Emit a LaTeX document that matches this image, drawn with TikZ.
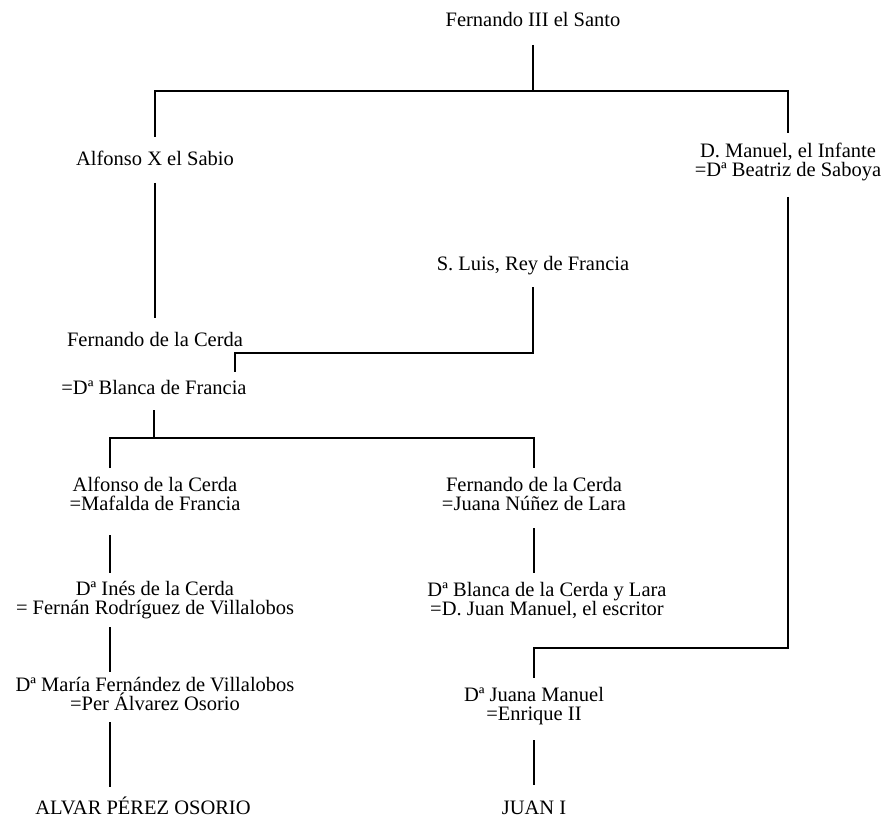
\documentclass[tikz,border=0pt]{standalone}
\usepackage{fontspec}
\setmainfont{Liberation Serif}
\usetikzlibrary{positioning,calc}

\begin{document}
\begin{tikzpicture}[
    x=1pt, y=-1pt,
    font=\fontsize{20.5}{19}\selectfont,
    person/.style={align=center, anchor=base, inner sep=0pt, outer sep=0pt},
    line/.style={line width=1.2pt}
]
\useasboundingbox (0,0) rectangle (887,824);

% Generations
\node[person] (fer3) at (533,27) {Fernando III el Santo};
\node[person] (alf10) at (155,166) {Alfonso X el Sabio};
\node[person] (manuel) at (788,177) {D. Manuel, el Infante\\=Dª Beatriz de Saboya};
\node[person] (luis) at (533,270) {S. Luis, Rey de Francia};
\node[person] (fcerda) at (155,346) {Fernando de la Cerda};
\node[person] (blancaF) at (154,394) {=Dª Blanca de Francia};
\node[person] (alfcerda) at (155,510) {Alfonso de la Cerda\\=Mafalda de Francia};
\node[person] (fercerda) at (534,510) {Fernando de la Cerda\\=Juana Núñez de Lara};
\node[person] (ines) at (155,614) {Dª Inés de la Cerda\\= Fernán Rodríguez de Villalobos};
\node[person] (blancaL) at (547,615) {Dª Blanca de la Cerda y Lara\\=D. Juan Manuel, el escritor};
\node[person] (maria) at (155,710) {Dª María Fernández de Villalobos\\=Per Álvarez Osorio};
\node[person] (juana) at (534,720) {Dª Juana Manuel\\=Enrique II};
\node[person] (alvar) at (143,814) {ALVAR PÉREZ OSORIO};
\node[person] (juan1) at (534,814) {JUAN I};

% Junctions
\coordinate (split1) at (533,91);
\coordinate (split2) at (154,438);
\coordinate (split3) at (534,648);

% Lines
\draw[line] ([yshift=-18pt]fer3.base) -- (split1);
\draw[line] ([yshift=29pt]alf10.base) -- (alf10.base |- split1) -- (manuel.base |- split1) -- ([yshift=44pt]manuel.base);
\draw[line] ([yshift=-17pt]alf10.base) -- ([yshift=28pt]fcerda.base);
\draw[line] ([yshift=-17pt]luis.base) |- ([xshift=81pt,yshift=41pt]blancaF.base) -- ([xshift=81pt,yshift=22pt]blancaF.base);
\draw[line] ([yshift=-16pt]blancaF.base) -- (split2);
\draw[line] ([xshift=-45pt,yshift=42pt]alfcerda.base) |- (split2) -| ([yshift=42pt]fercerda.base);
\draw[line] ([xshift=-45pt,yshift=-25pt]alfcerda.base) -- ([xshift=-45pt,yshift=41pt]ines.base);
\draw[line] ([xshift=-45pt,yshift=-13pt]ines.base) -- ([xshift=-45pt,yshift=38pt]maria.base);
\draw[line] ([xshift=-45pt,yshift=-12pt]maria.base) -- ([xshift=-33pt,yshift=27pt]alvar.base);
\draw[line] ([yshift=-18pt]fercerda.base) -- ([xshift=-13pt,yshift=42pt]blancaL.base);
\draw[line] ([yshift=-20pt]manuel.base) |- (split3) -- ([yshift=42pt]juana.base);
\draw[line] ([yshift=-20pt]juana.base) -- ([yshift=29pt]juan1.base);
\end{tikzpicture}
\end{document}
